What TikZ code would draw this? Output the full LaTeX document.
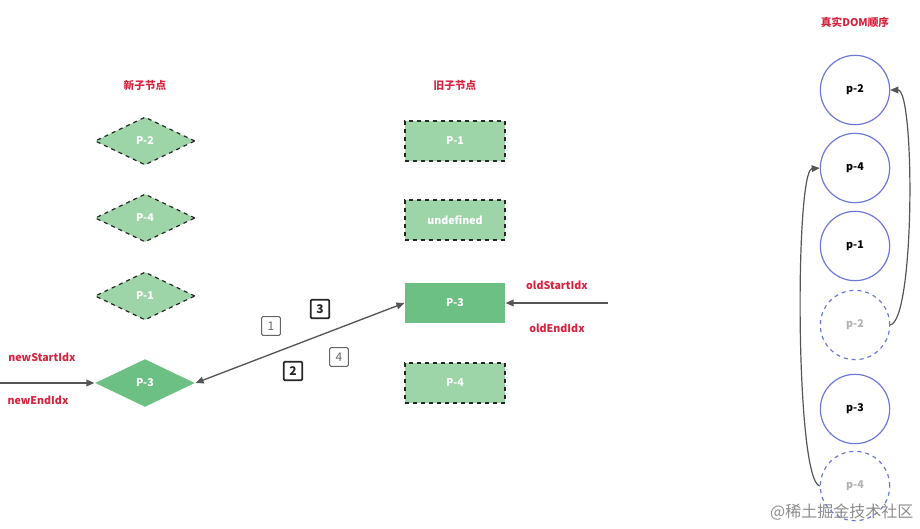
\documentclass[tikz,border=0pt]{standalone}
\usepackage{fontspec}
\setmainfont{Noto Sans CJK SC}
\usetikzlibrary{shapes.geometric,arrows.meta}
\definecolor{gfill}{HTML}{9DD4A8}
\definecolor{gsolid}{HTML}{6CC083}
\definecolor{lbl}{HTML}{D6243F}
\definecolor{cblue}{HTML}{6D78D6}
\definecolor{arr}{HTML}{555555}
\tikzset{
 dia/.style={diamond,aspect=2.1,minimum width=75pt,minimum height=36pt,inner sep=0pt,fill=gfill,draw=black!85,dashed,line width=0.9pt,text=white,font=\bfseries\footnotesize},
 rct/.style={rectangle,minimum width=75pt,minimum height=30pt,fill=gfill,draw=black!85,dashed,line width=0.9pt,text=white,font=\bfseries\footnotesize},
 circ/.style={circle,minimum size=52pt,draw=cblue,line width=0.9pt,font=\bfseries\footnotesize},
 ghost/.style={circ,dashed,text=black!30},
 red/.style={text=lbl,font=\bfseries\footnotesize},
 num/.style={draw=black!60,line width=0.8pt,text=black!60,minimum size=14pt,inner sep=0pt,rounded corners=1pt,font=\small},
 numb/.style={num,draw=black!85,text=black!85,line width=1.3pt,font=\bfseries\small},
 ar/.style={-{Triangle[length=6pt,width=5pt]},draw=arr,line width=1pt}
}
\begin{document}
\begin{tikzpicture}[x=0.75pt,y=-0.75pt]
\useasboundingbox (0,0) rectangle (920,528);
\node[red] at (145,85) {新子节点};
\node[red] at (455,85) {旧子节点};
\node[red] at (855,22) {真实DOM顺序};
\node[dia] (d2) at (145,141) {P-2};
\node[dia] (d4) at (145,218) {P-4};
\node[dia] (d1) at (145,296) {P-1};
\node[dia,solid,draw=none,fill=gsolid] (d3) at (145,383) {P-3};
\node[rct] (r1) at (455,141) {P-1};
\node[rct] (ru) at (455,220) {undefined};
\node[rct,solid,draw=none,fill=gsolid] (r3) at (455,303) {P-3};
\node[rct] (r4) at (455,383) {P-4};
\coordinate (ns) at (0,383);
\coordinate (os) at (608,303);
\draw[ar] (ns) -- (d3.west);
\draw[ar] (os) -- (r3.east);
\draw[ar,{Triangle[length=6pt,width=5pt]}-{Triangle[length=6pt,width=5pt]}] (d3.east) -- (r3.west);
\node[red] at (42,357) {newStartIdx};
\node[red] at (38,400) {newEndIdx};
\node[red] at (557,285) {oldStartIdx};
\node[red] at (557,328) {oldEndIdx};
\node[num] (n1) at (271,326) {1};
\node[numb] (n3) at (320,309) {3};
\node[numb] (n2) at (293,371) {2};
\node[num] (n4) at (339,357) {4};
\node[circ] (c2) at (855,90) {p-2};
\node[circ] (c4) at (855,168) {p-4};
\node[circ] (c1) at (855,246) {p-1};
\node[ghost] (g2) at (855,325) {p-2};
\node[circ] (c3) at (855,409) {p-3};
\node[ghost] (g4) at (855,486) {p-4};
\draw[ar,line width=0.9pt] (g2.east) .. controls (915,320) and (915,90) .. (c2.east);
\draw[ar,line width=0.9pt] (g4.west) .. controls (795,480) and (795,170) .. (c4.west);
\node[text=black!45,font=\large,anchor=east] (wm) at (918,512) {@稀土掘金技术社区};
\end{tikzpicture}
\end{document}
